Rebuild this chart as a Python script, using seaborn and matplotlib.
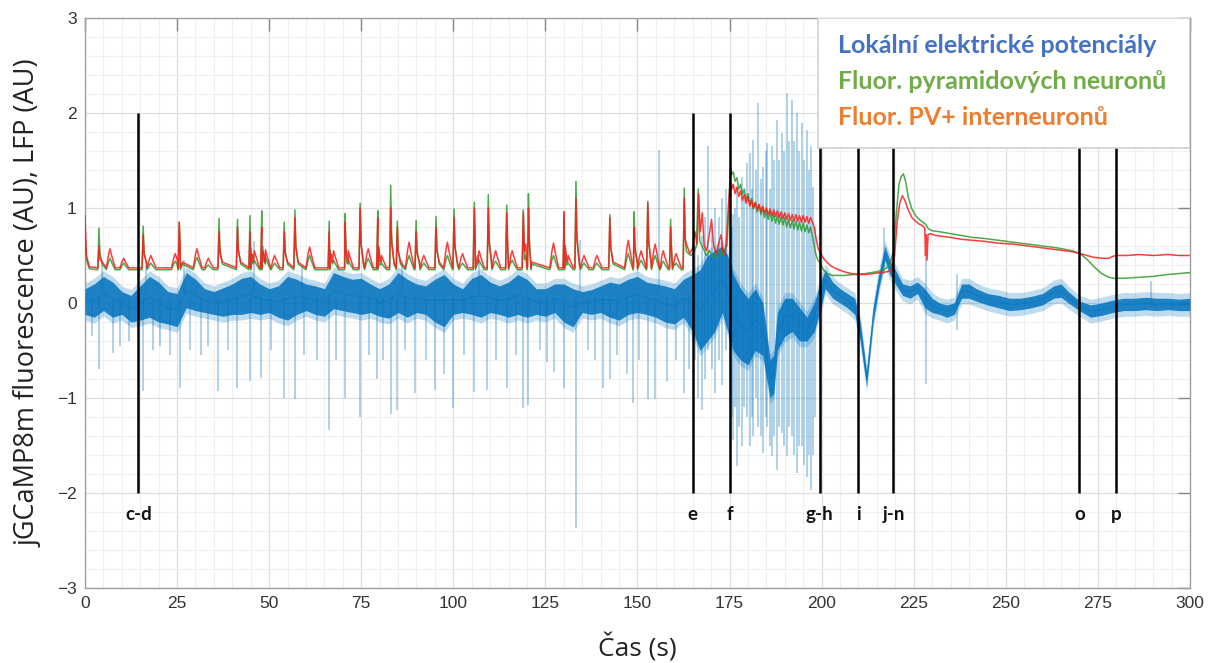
import numpy as np
import pandas as pd
import matplotlib
matplotlib.use("Agg")
import matplotlib.pyplot as plt
from matplotlib.patches import Rectangle
from matplotlib.ticker import MultipleLocator
import seaborn as sns

# ---------------- DATA ----------------
# Fluorescence baselines before the seizure
base_green = 0.35
base_red = 0.37
start_t = [0.0, 0.4, 1.2]
start_green = [0.70, 0.45, 0.36]
start_red = [0.92, 0.50, 0.38]

# sharp fluorescence transients (time, green peak, red peak)
spike_t = [3.8, 15.8, 25.6, 36.4, 41.4, 44.8, 48.0, 54.1, 57.0, 66.3, 70.6, 74.7, 79.5,
           83.0, 84.8, 89.9, 95.3, 100.2, 105.7, 109.5, 114.5, 119.0, 120.4, 130.1,
           133.3, 142.5, 149.1, 152.8, 159.0, 162.7]
spike_green = [0.79, 0.81, 0.85, 0.89, 0.88, 0.92, 0.97, 0.85, 0.98, 0.86, 0.94, 1.05, 0.97,
               1.24, 0.86, 0.87, 0.91, 0.99, 1.06, 1.14, 1.03, 0.98, 1.15, 0.90,
               1.28, 0.93, 0.96, 1.07, 0.88, 1.21]
spike_red = [0.60, 0.72, 0.85, 0.75, 0.80, 0.75, 0.80, 0.75, 0.90, 0.75, 0.85, 1.00, 0.90,
             1.00, 0.80, 0.75, 0.80, 0.90, 1.00, 1.00, 0.95, 0.95, 1.00, 0.96,
             1.10, 0.90, 0.80, 1.05, 0.80, 1.10]

# broader fluorescence bumps (time, green peak, red peak)
bump_t = [6.8, 10.5, 17.9, 24.5, 30.4, 33.5, 46.0, 49.0, 51.5, 61.0, 67.5, 71.5, 76.9,
          80.5, 88.0, 92.0, 98.4, 102.5, 107.0, 111.5, 116.0, 119.7, 127.2, 131.2,
          135.5, 139.0, 147.5, 151.0, 154.8, 157.0, 160.5]
bump_green = [0.47, 0.42, 0.42, 0.44, 0.48, 0.40, 0.45, 0.48, 0.42, 0.50, 0.45, 0.45, 0.47,
              0.42, 0.50, 0.42, 0.50, 0.42, 0.45, 0.44, 0.45, 0.50, 0.50, 0.42,
              0.42, 0.42, 0.52, 0.45, 0.50, 0.44, 0.42]
bump_red = [0.57, 0.47, 0.50, 0.52, 0.57, 0.47, 0.55, 0.56, 0.50, 0.59, 0.55, 0.55, 0.57,
            0.50, 0.64, 0.50, 0.64, 0.52, 0.55, 0.55, 0.55, 0.62, 0.63, 0.50,
            0.50, 0.50, 0.66, 0.55, 0.62, 0.55, 0.52]

# fluorescence from 163 s on (explicit samples)
late_green_t = [163.3, 164.5, 165.2, 166.0, 166.5, 166.9, 167.8, 168.7, 169.5, 170.3, 171.2, 172.0,
                172.8, 173.7, 174.3, 174.8, 175.2, 175.6, 176.0, 176.5, 177.0, 177.5, 178.0, 178.5,
                179.0, 179.5, 180.0, 180.5, 181.0, 181.5, 182.0, 182.5, 183.0, 183.5, 184.0, 184.5,
                185.0, 185.5, 186.0, 186.5, 187.0, 187.5, 188.0, 188.5, 189.0, 189.5, 190.0, 190.5,
                191.0, 191.5, 192.0, 192.5, 193.0, 193.5, 194.0, 194.5, 195.0, 195.5, 196.0, 196.5,
                197.0, 197.5, 198.0, 198.5, 199.0, 199.6, 200.5, 201.4, 203.0, 206.0, 209.0, 212.0,
                215.0, 217.0, 218.5, 219.5, 220.3, 221.0, 221.6, 222.2, 222.8, 223.5, 224.5, 225.5,
                226.5, 227.5, 228.2, 229.0, 230.0, 232.0, 235.0, 238.0, 241.0, 244.0, 248.0, 252.0,
                256.0, 260.0, 264.0, 268.0, 270.2, 272.0, 274.0, 276.0, 278.0, 279.5, 282.0, 286.0,
                290.0, 294.0, 297.0, 300.0]
late_green = [0.54, 0.50, 0.52, 0.60, 1.20, 0.65, 0.58, 0.50, 0.55, 0.50, 0.47, 0.55,
              0.50, 0.56, 0.60, 1.00, 1.42, 1.35, 1.38, 1.28, 1.32, 1.20, 1.25, 1.14,
              1.20, 1.08, 1.15, 1.03, 1.10, 0.99, 1.06, 0.96, 1.03, 0.93, 1.00, 0.90,
              0.98, 0.88, 0.96, 0.86, 0.94, 0.84, 0.92, 0.83, 0.91, 0.82, 0.90, 0.80,
              0.88, 0.79, 0.87, 0.78, 0.86, 0.77, 0.85, 0.76, 0.84, 0.75, 0.82, 0.74,
              0.80, 0.70, 0.60, 0.50, 0.45, 0.42, 0.35, 0.31, 0.29, 0.29, 0.30, 0.31,
              0.33, 0.35, 0.40, 0.55, 0.95, 1.25, 1.33, 1.36, 1.28, 1.12, 0.99, 0.92,
              0.88, 0.85, 0.83, 0.78, 0.76, 0.75, 0.73, 0.71, 0.69, 0.68, 0.66, 0.64,
              0.62, 0.60, 0.58, 0.55, 0.52, 0.46, 0.38, 0.31, 0.27, 0.26, 0.26, 0.27,
              0.28, 0.30, 0.31, 0.32]

late_red_t = [163.3, 164.2, 165.0, 165.6, 166.2, 166.6, 167.0, 167.6, 168.1, 168.8, 169.5, 170.1,
              170.7, 171.4, 172.0, 172.7, 173.2, 173.8, 174.3, 174.8, 175.2, 175.6, 176.0, 176.5,
              177.0, 177.5, 178.0, 178.5, 179.0, 179.5, 180.0, 180.5, 181.0, 181.5, 182.0, 182.5,
              183.0, 183.5, 184.0, 184.5, 185.0, 185.5, 186.0, 186.5, 187.0, 187.5, 188.0, 188.5,
              189.0, 189.5, 190.0, 190.5, 191.0, 191.5, 192.0, 192.5, 193.0, 193.5, 194.0, 194.5,
              195.0, 195.5, 196.0, 196.5, 197.0, 197.5, 198.0, 198.5, 199.0, 199.6, 200.5, 201.4,
              202.5, 204.0, 206.0, 208.0, 210.0, 212.0, 214.0, 216.0, 218.0, 219.0, 219.8, 220.5,
              221.2, 221.9, 222.6, 223.5, 224.5, 225.5, 226.5, 227.5, 228.0, 228.2, 228.4, 228.6,
              228.9, 229.5, 231.0, 233.0, 235.0, 238.0, 241.0, 244.0, 248.0, 252.0, 256.0, 260.0,
              264.0, 268.0, 270.2, 272.0, 274.0, 276.5, 278.0, 279.0, 280.0, 283.0, 286.0, 290.0,
              294.0, 297.0, 300.0]
late_red = [0.62, 0.52, 0.58, 0.75, 0.62, 1.15, 0.75, 0.95, 0.60, 0.55, 0.72, 0.88,
            0.60, 0.52, 0.62, 0.72, 0.55, 0.50, 0.75, 1.10, 1.28, 1.20, 1.25, 1.15,
            1.22, 1.12, 1.18, 1.08, 1.14, 1.05, 1.12, 1.02, 1.08, 1.00, 1.06, 0.98,
            1.04, 0.96, 1.02, 0.95, 1.00, 0.93, 0.99, 0.92, 0.98, 0.91, 0.97, 0.90,
            0.96, 0.89, 0.95, 0.88, 0.94, 0.87, 0.93, 0.86, 0.93, 0.86, 0.92, 0.85,
            0.92, 0.85, 0.91, 0.84, 0.90, 0.85, 0.80, 0.68, 0.58, 0.53, 0.47, 0.43,
            0.39, 0.36, 0.33, 0.31, 0.30, 0.30, 0.31, 0.32, 0.33, 0.36, 0.50, 0.85,
            1.05, 1.13, 1.08, 0.98, 0.90, 0.86, 0.83, 0.81, 0.79, 0.50, 0.72, 0.45,
            0.72, 0.73, 0.71, 0.70, 0.69, 0.67, 0.66, 0.65, 0.63, 0.62, 0.60, 0.58,
            0.56, 0.54, 0.52, 0.50, 0.48, 0.47, 0.47, 0.49, 0.50, 0.50, 0.51, 0.50,
            0.51, 0.50, 0.50]

# LFP: dense band (lower / upper edge of the dark trace)
lfp_t = [0, 2.5, 5, 7.5, 10, 12.5, 15, 17.5, 20, 22.5, 25, 27.5, 30, 32.5, 35, 37.5, 40, 42.5,
         45, 47.5, 50, 52.5, 55, 57.5, 60, 62.5, 65, 67.5, 70, 72.5, 75, 77.5, 80, 82.5, 85,
         87.5, 90, 92.5, 95, 97.5, 100, 102.5, 105, 107.5, 110, 112.5, 115, 117.5, 120, 122.5,
         125, 127.5, 130, 132.5, 135, 137.5, 140, 142.5, 145, 147.5, 150, 152.5, 155, 157.5,
         160, 162.5, 165, 167, 169, 171, 173, 174.5, 176, 178, 180, 182, 184, 186, 187, 188,
         190, 192, 194, 196, 198, 199.5, 201, 203, 205, 207, 209, 210.5, 212.2, 214, 215.5,
         217.2, 218.5, 220, 222, 224, 226, 228, 230, 232, 234, 236, 238, 240, 242, 245, 248,
         251, 254, 257, 260, 263, 265, 267, 270, 273, 276, 279, 282, 285, 288, 291, 294, 297, 300]
lfp_lo = [-0.12, -0.15, -0.08, -0.15, -0.12, -0.20, -0.18, -0.15, -0.20, -0.22, -0.25, -0.05,
          -0.08, -0.10, -0.12, -0.14, -0.12, -0.12, -0.10, -0.12, -0.10, -0.15, -0.18, -0.12,
          -0.08, -0.12, -0.14, -0.06, -0.08, -0.10, -0.12, -0.10, -0.14, -0.16, -0.10, -0.15,
          -0.10, -0.12, -0.20, -0.25, -0.12, -0.10, -0.12, -0.15, -0.10, -0.12, -0.15, -0.12,
          -0.15, -0.12, -0.14, -0.10, -0.20, -0.25, -0.10, -0.12, -0.10, -0.15, -0.18, -0.12,
          -0.10, -0.12, -0.15, -0.20, -0.22, -0.15, -0.30, -0.50, -0.40, -0.30, -0.10, -0.30,
          -0.50, -0.60, -0.65, -0.50, -0.55, -1.00, -0.95, -0.50, -0.35, -0.30, -0.40, -0.40,
          -0.30, -0.10, 0.15, 0.05, 0.00, -0.05, -0.12, -0.40, -0.88, -0.20, 0.15,
          0.45, 0.30, 0.20, 0.08, 0.05, 0.10, -0.05, -0.10, -0.12, -0.15, -0.12, 0.05, 0.05,
          0.02, -0.02, -0.05, -0.08, -0.07, -0.05, -0.02, 0.05, 0.06, 0.00, -0.08, -0.15,
          -0.13, -0.10, -0.08, -0.08, -0.07, -0.08, -0.07, -0.08, -0.08]
lfp_hi = [0.15, 0.20, 0.28, 0.22, 0.12, 0.08, 0.18, 0.28, 0.22, 0.12, 0.10, 0.32,
          0.25, 0.15, 0.12, 0.16, 0.20, 0.26, 0.28, 0.20, 0.15, 0.18, 0.28, 0.25,
          0.20, 0.18, 0.15, 0.32, 0.28, 0.25, 0.26, 0.20, 0.15, 0.20, 0.32, 0.25,
          0.20, 0.18, 0.25, 0.30, 0.20, 0.15, 0.26, 0.30, 0.22, 0.18, 0.22, 0.30,
          0.25, 0.15, 0.15, 0.20, 0.20, 0.15, 0.12, 0.14, 0.18, 0.22, 0.20, 0.25,
          0.28, 0.22, 0.20, 0.18, 0.15, 0.25, 0.30, 0.35, 0.50, 0.55, 0.60, 0.50,
          0.30, 0.15, 0.05, 0.15, 0.00, -0.60, -0.55, -0.10, 0.05, 0.05, -0.05, -0.15,
          0.00, 0.20, 0.35, 0.22, 0.15, 0.10, 0.05, -0.20, -0.72, -0.05, 0.30,
          0.60, 0.45, 0.35, 0.20, 0.18, 0.22, 0.15, 0.05, 0.00, -0.02, 0.00, 0.20, 0.20,
          0.15, 0.10, 0.08, 0.05, 0.05, 0.07, 0.10, 0.18, 0.20, 0.12, 0.02, -0.02,
          0.00, 0.03, 0.05, 0.05, 0.06, 0.05, 0.05, 0.04, 0.05]

# LFP transients: time, lowest value, highest value
lfp_spike_t = [2.0, 3.8, 4.7, 7.5, 9.5, 12.0, 15.8, 16.5, 18.5, 20.5, 23.0, 25.8, 27.0, 28.5,
               31.5, 33.5, 36.2, 38.8, 41.4, 44.8, 45.9, 47.7, 50.5, 54.0, 56.9, 59.0, 59.5,
               63.0, 66.3, 68.2, 70.6, 74.7, 77.0, 79.4, 81.0, 83.0, 84.6, 86.0, 87.0, 89.6,
               92.5, 95.0, 97.5, 100.0, 103.0, 105.6, 107.0, 109.2, 111.5, 114.5, 117.0,
               119.0, 120.2, 123.5, 125.5, 127.3, 130.1, 133.3, 134.4, 136.5, 138.5, 140.7,
               142.5, 144.5, 147.1, 148.9, 150.5, 152.9, 154.7, 155.9, 157.9, 160.5, 162.6,
               164.0, 165.5, 166.5, 167.4, 168.3, 169.2, 170.2, 171.1, 172.1, 173.0, 174.0,
               175.6, 176.0, 176.6, 177.0, 177.7, 178.3, 179.0, 179.7, 180.5, 181.0, 181.5,
               182.2, 182.8, 183.5, 184.2, 184.8, 185.3, 185.9, 186.4, 187.1, 187.8, 188.5,
               189.2, 189.9, 190.5, 191.2, 191.9, 192.6, 193.2, 193.9, 194.6, 195.3, 195.9,
               196.5, 197.0, 197.7, 198.3, 216.8, 228.3, 236.7, 289.3]
lfp_spike_lo = [-0.35, -0.70, 0.10, -0.53, -0.45, -0.40, -0.93, 0.10, -0.50, -0.45, -0.55, -0.90,
                0.10, -0.50, -0.55, -0.45, -0.93, -0.50, -0.89, -0.82, 0.10, -0.79, -0.50,
                -1.00, -1.01, 0.10, -0.55, -0.60, -1.34, -0.60, -1.00, -1.20, -0.55, -0.80,
                -0.60, -1.17, -1.13, 0.10, -0.50, -0.95, -0.60, -0.92, -0.75, -1.11, -0.55,
                -0.94, 0.10, -0.92, -0.60, -0.89, -0.55, -1.11, -1.07, -0.50, -0.62, -0.73,
                -0.90, -2.37, 0.10, -0.50, -0.60, -0.89, -0.80, -0.55, -0.75, -1.05, -0.60,
                -1.01, -1.01, 0.10, -0.82, -0.60, -0.95, -0.70, -0.60, -1.00, -1.13, -0.80,
                -0.50, -0.70, -0.95, -0.60, -0.86, -0.50, -1.20, -1.44, -1.10, -1.72, -1.30,
                -1.51, -1.10, -1.20, -1.51, -1.20, -1.40, -1.00, -1.30, -1.40, -1.58, -1.20,
                -1.30, -1.50, -1.61, -1.40, -1.76, -1.30, -1.37, -1.50, -1.61, -1.30, -1.40,
                -1.60, -1.79, -1.50, -1.51, -1.70, -1.83, -1.60, -1.97, -1.60, -1.20, 0.30,
                -0.85, -0.28, 0.00]
lfp_spike_hi = [0.05, 0.05, 0.45, 0.05, 0.05, 0.05, 0.05, 0.40, 0.05, 0.05, 0.05, 0.05,
                0.45, 0.05, 0.05, 0.05, 0.05, 0.05, 0.05, 0.05, 0.65, 0.05, 0.05,
                0.05, 0.05, 0.40, 0.05, 0.05, 0.05, 0.05, 0.05, 0.05, 0.05, 0.05,
                0.05, 0.05, 0.05, 0.45, 0.05, 0.05, 0.05, 0.05, 0.05, 0.05, 0.05,
                0.05, 0.45, 0.05, 0.05, 0.05, 0.05, 0.05, 0.05, 0.05, 0.05, 0.05,
                0.05, 0.05, 0.66, 0.05, 0.05, 0.05, 0.05, 0.05, 0.05, 0.05, 0.05,
                0.05, 0.05, 1.61, 0.05, 0.05, 0.05, 0.10, 0.60, 0.50, 0.70, 0.90,
                1.65, 0.80, 1.00, 0.90, 1.10, 1.20, 0.80, 0.94, 1.00, 1.22, 0.90,
                1.33, 1.10, 1.47, 1.58, 1.20, 1.72, 1.40, 2.10, 1.30, 1.43, 1.60,
                1.68, 1.20, 1.65, 1.50, 1.93, 1.50, 1.79, 1.60, 2.21, 1.70, 2.14,
                1.70, 2.00, 1.60, 1.89, 1.50, 1.82, 1.40, 1.65, 1.22, 0.80, 0.79,
                0.49, 0.31, 0.23]

event_t = [14.5, 165.0, 175.0, 199.5, 210.0, 219.5, 270.0, 280.0]
event_labels = ["c-d", "e", "f", "g-h", "i", "j-n", "o", "p"]

legend_labels = ["Lokální elektrické potenciály", "Fluor. pyramidových neuronů",
                 "Fluor. PV+ interneuronů"]
x_ticks = [0, 25, 50, 75, 100, 125, 150, 175, 200, 225, 250, 275, 300]
y_ticks = [-3, -2, -1, 0, 1, 2, 3]


# ---------------- build fluorescence traces ----------------
def build_trace(base, st, sv, sp_t, sp_v, bp_t, bp_v, late_t, late_v, cutoff=163.2):
    pts = list(zip(st, sv))
    for t, p in zip(sp_t, sp_v):
        h = p - base
        pts += [(t - 0.3, base), (t, p), (t + 0.25, base + 0.4 * h), (t + 0.9, base + 0.06)]
    for t, p in zip(bp_t, bp_v):
        h = p - base
        pts += [(t - 1.0, base), (t - 0.4, base + 0.7 * h), (t, p),
                (t + 0.5, base + 0.6 * h), (t + 1.4, base)]
    pts = [q for q in pts if q[0] < cutoff]
    pts.sort(key=lambda q: q[0])
    t = [q[0] for q in pts] + list(late_t)
    v = [q[1] for q in pts] + list(late_v)
    return pd.DataFrame({"t": t, "v": v})


green_df = build_trace(base_green, start_t, start_green, spike_t, spike_green,
                       bump_t, bump_green, late_green_t, late_green)
red_df = build_trace(base_red, start_t, start_red, spike_t, spike_red,
                     bump_t, bump_red, late_red_t, late_red)

lfp_df = pd.DataFrame({"t": lfp_t, "lo": lfp_lo, "hi": lfp_hi})
lfp_df["mid"] = (lfp_df["lo"] + lfp_df["hi"]) / 2

# ---------------- plot ----------------
sns.set_theme(style="white")
plt.rcParams["font.family"] = ["Liberation Sans", "DejaVu Sans"]

fig = plt.figure(figsize=(12.14, 6.63), dpi=100)
ax = fig.add_axes([0.0700, 0.1131, 0.9102, 0.8598])

LFP = "#0072BD"
ax.fill_between(lfp_df["t"], lfp_df["lo"] - 0.06, lfp_df["hi"] + 0.06,
                color=LFP, alpha=0.25, lw=0, zorder=2)
ax.fill_between(lfp_df["t"], lfp_df["lo"], lfp_df["hi"], color=LFP, alpha=0.85,
                lw=0, zorder=3)
ax.vlines(lfp_spike_t, lfp_spike_lo, lfp_spike_hi, color=LFP, alpha=0.40, lw=1.1,
          zorder=2.5)
sns.lineplot(data=lfp_df, x="t", y="mid", ax=ax, color=LFP, lw=0.6, alpha=0.6,
             estimator=None, zorder=3.5)

sns.lineplot(data=green_df, x="t", y="v", ax=ax, color="#2f9a2f", lw=1.1, alpha=0.85,
             estimator=None, sort=False, zorder=4)
sns.lineplot(data=red_df, x="t", y="v", ax=ax, color="#ff1a1a", lw=1.1, alpha=0.85,
             estimator=None, sort=False, zorder=4.5)

# event markers
ax.vlines(event_t, -2, 2, color="black", lw=1.8, zorder=6)
for t, lab in zip(event_t, event_labels):
    ax.text(t, -2.23, lab, ha="center", va="center", fontsize=13.5, fontweight="bold",
            family=["Lato", "DejaVu Sans"], color="#111111", zorder=7)

ax.set_xlim(0, 300)
ax.set_ylim(-3, 3)
ax.set_xticks(x_ticks)
ax.set_yticks(y_ticks)
ax.xaxis.set_minor_locator(MultipleLocator(5))
ax.yaxis.set_minor_locator(MultipleLocator(0.2))
ax.grid(which="major", color="#dedede", lw=0.9, zorder=0)
ax.grid(which="minor", color="#f0f0f0", lw=0.8, zorder=0)
ax.set_axisbelow(True)
ax.tick_params(which="major", direction="in", length=9, width=1.0, color="#888888",
               top=True, right=True, labelsize=12.5, labelcolor="#333333", pad=6)
ax.tick_params(which="minor", length=0)
for s in ax.spines.values():
    s.set_color("#a0a0a0")
    s.set_linewidth(1.0)

ax.set_xlabel("Čas (s)", fontsize=19, family=["Open Sans", "DejaVu Sans"],
              color="#222222", labelpad=16)
ax.set_ylabel("jGCaMP8m fluorescence (AU), LFP (AU)", fontsize=19.5,
              family=["Open Sans", "DejaVu Sans"], color="#222222", labelpad=10)

# legend box
ax.add_patch(Rectangle((0.6633, 0.772), 0.3367, 0.228, transform=ax.transAxes,
                       facecolor="white", edgecolor="#cfcfcf", lw=1.2, zorder=8))
leg_colors = ["#4472C4", "#70AD47", "#ED7D31"]
leg_y = [0.951, 0.889, 0.826]
for lab, c, yy in zip(legend_labels, leg_colors, leg_y):
    ax.text(0.6814, yy, lab, transform=ax.transAxes, ha="left", va="center",
            fontsize=18, fontweight="bold", family=["Lato", "DejaVu Sans"], color=c,
            zorder=9)

fig.savefig("out.png", dpi=100)
